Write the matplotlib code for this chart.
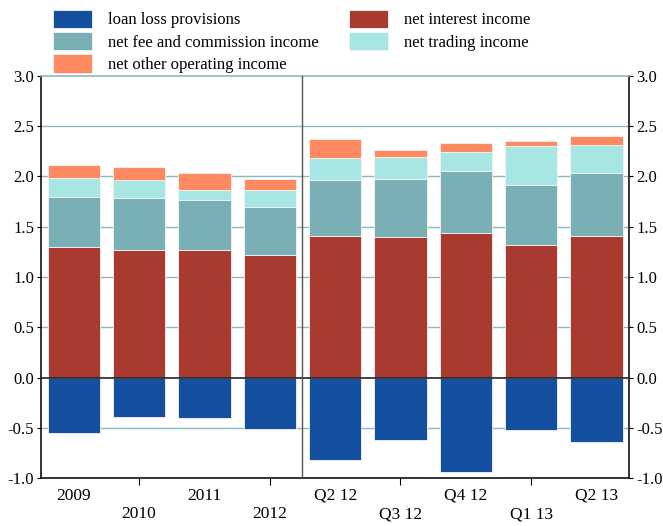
import numpy as np
import matplotlib.pyplot as plt

plt.rcParams['font.family'] = ['Liberation Serif', 'DejaVu Serif']

labels = ["2009", "2010", "2011", "2012", "Q2 12", "Q3 12", "Q4 12", "Q1 13", "Q2 13"]

# values (percent)
loan_loss = [-0.55, -0.39, -0.40, -0.51, -0.82, -0.62, -0.94, -0.52, -0.64]
net_interest = [1.30, 1.27, 1.27, 1.22, 1.41, 1.40, 1.44, 1.32, 1.41]
net_fee = [0.49, 0.51, 0.49, 0.48, 0.55, 0.57, 0.61, 0.59, 0.62]
net_trading = [0.19, 0.18, 0.10, 0.16, 0.22, 0.22, 0.19, 0.39, 0.28]
net_other = [0.13, 0.13, 0.17, 0.11, 0.19, 0.07, 0.09, 0.05, 0.09]

c_llp = "#1550A0"
c_nii = "#A83A30"
c_fee = "#7AAFB5"
c_trd = "#A8E6E4"
c_oth = "#FF8A62"
grid_c = "#8DB9C0"

fig = plt.figure(figsize=(6.63, 5.26), dpi=100)
ax = fig.add_axes([0.062, 0.091, 0.887, 0.765])

x = np.arange(len(labels))
w = 0.8
ek = dict(edgecolor="#f4f4f4", linewidth=0.6, zorder=3)

b_llp = ax.bar(x, loan_loss, w, color=c_llp, label="loan loss provisions", **ek)
b_nii = ax.bar(x, net_interest, w, color=c_nii, label="net interest income", **ek)
bottom = np.array(net_interest)
b_fee = ax.bar(x, net_fee, w, bottom=bottom, color=c_fee,
               label="net fee and commission income", **ek)
bottom = bottom + np.array(net_fee)
b_trd = ax.bar(x, net_trading, w, bottom=bottom, color=c_trd,
               label="net trading income", **ek)
bottom = bottom + np.array(net_trading)
b_oth = ax.bar(x, net_other, w, bottom=bottom, color=c_oth,
               label="net other operating income", **ek)

ax.set_xlim(-0.5, len(labels) - 0.5)
ax.set_ylim(-1.0, 3.0)
yt = np.arange(-1.0, 3.01, 0.5)
ax.set_yticks(yt)
ax.set_yticklabels([f"{v:.1f}" for v in yt])
for v in yt[1:-1]:
    if v != 0:
        ax.axhline(v, color=grid_c, lw=1, zorder=1)
ax.axhline(0, color="#222222", lw=1.2, zorder=4)
ax.axvline(3.5, color="#555555", lw=1, zorder=4)

ax.spines["top"].set_color(grid_c)
ax.spines["top"].set_linewidth(1.2)
for s in ["left", "right", "bottom"]:
    ax.spines[s].set_color("#111111")
    ax.spines[s].set_linewidth(1.2)

ax.set_xticks(x)
ax.set_xticklabels([lab if i % 2 == 0 else "\n" + lab for i, lab in enumerate(labels)])
for i, t in enumerate(ax.xaxis.get_major_ticks()):
    if i % 2 == 0:
        t.tick1line.set_visible(False)
ax.tick_params(axis="x", length=5, width=0.8, labelsize=12.5, pad=2)
ax.tick_params(axis="y", length=3, width=0.8, labelsize=12, right=True,
               labelright=True, pad=2)

handles = [b_llp, b_fee, b_oth, b_nii, b_trd]
fig.legend(handles=handles, labels=[h.get_label() for h in handles],
           loc="upper left", bbox_to_anchor=(0.058, 1.01), ncol=2, frameon=False,
           fontsize=12, handlelength=2.3, handleheight=1.3, handletextpad=1.0,
           columnspacing=1.8, labelspacing=0.22)

fig.savefig("out.png", dpi=100)
